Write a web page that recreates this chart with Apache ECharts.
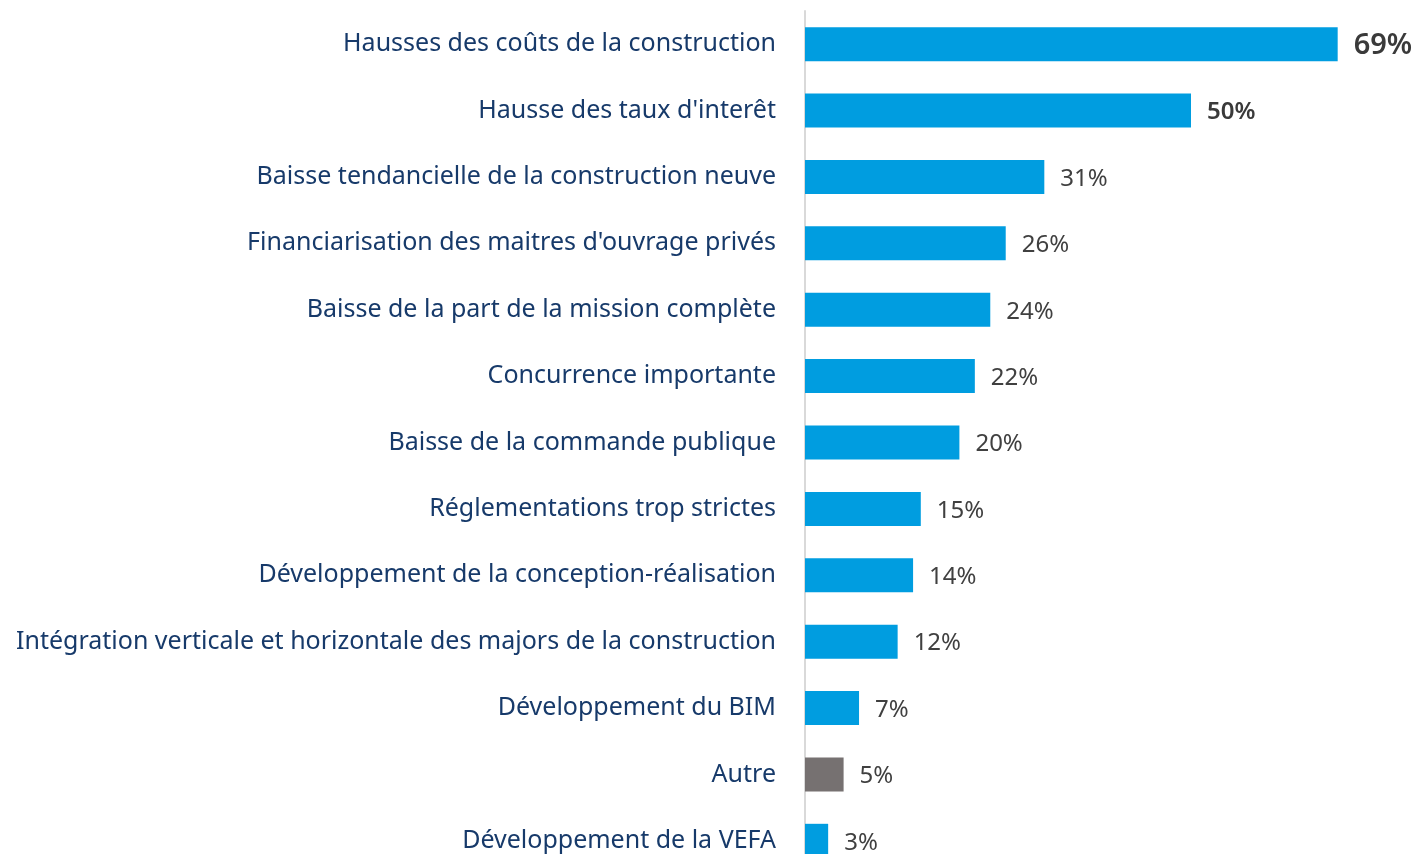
<!DOCTYPE html>
<html>
<head>
<meta charset="utf-8">
<script src="https://cdn.jsdelivr.net/npm/echarts@6/dist/echarts.min.js"></script>
<style>
  html, body { margin: 0; padding: 0; background: #ffffff; }
  #chart { width: 1419px; height: 854px; }
</style>
</head>
<body>
<div id="chart"></div>
<script>
// Freins à l'activité : part des réponses (%)
const categories = [
  "Hausses des coûts de la construction",
  "Hausse des taux d'interêt",
  "Baisse tendancielle de la construction neuve",
  "Financiarisation des maitres d'ouvrage privés",
  "Baisse de la part de la mission complète",
  "Concurrence importante",
  "Baisse de la commande publique",
  "Réglementations trop strictes",
  "Développement de la conception-réalisation",
  "Intégration verticale et horizontale des majors de la construction",
  "Développement du BIM",
  "Autre",
  "Développement de la VEFA"
];
const values = [69, 50, 31, 26, 24, 22, 20, 15, 14, 12, 7, 5, 3];

const BLUE = '#009de0';
const GREY = '#767171';
const FONT = 'Noto Sans';

const seriesData = values.map((v, i) => {
  const item = { value: v };
  if (categories[i] === 'Autre') item.itemStyle = { color: GREY };
  if (i === 0) item.label = { fontSize: 29, fontWeight: 600, color: '#3a3a3a' };
  if (i === 1) item.label = { fontSize: 24, fontWeight: 600, color: '#3a3a3a' };
  return item;
});

const chart = echarts.init(document.getElementById('chart'), null, { renderer: 'canvas' });
chart.setOption({
  animation: false,
  backgroundColor: '#ffffff',
  grid: { left: 805, top: 11, width: 579, height: 863, containLabel: false, outerBoundsMode: 'none' },
  xAxis: {
    type: 'value', min: 0, max: 75,
    show: false
  },
  yAxis: {
    type: 'category',
    data: categories,
    inverse: true,
    axisTick: { show: false },
    axisLine: { show: true, lineStyle: { color: '#d9d9d9', width: 2 } },
    axisLabel: {
      margin: 29,
      fontFamily: FONT,
      fontSize: 25,
      color: '#173a6a'
    }
  },
  series: [{
    type: 'bar',
    data: seriesData,
    barWidth: 34,
    itemStyle: { color: BLUE },
    label: {
      show: true,
      position: 'right',
      distance: 16,
      offset: [0, 2],
      fontFamily: FONT,
      fontSize: 24,
      color: '#404040',
      formatter: p => p.value + '%'
    }
  }]
});
</script>
</body>
</html>
